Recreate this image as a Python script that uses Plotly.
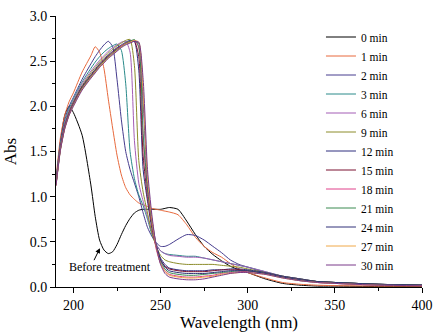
import plotly.graph_objects as go

wavelength = [190, 192.5, 195, 197.5, 200, 205, 210, 212.5, 215, 217.5, 220, 222.5, 225, 227.5,
              230, 232.5, 235, 237.5, 240, 242.5, 245, 247.5, 250, 252.5, 255, 260, 265, 270,
              275, 280, 285, 290, 295, 300, 310, 320, 330, 340, 350, 375, 400]

labels = ["0 min", "1 min", "2 min", "3 min", "6 min", "9 min", "12 min", "15 min",
          "18 min", "21 min", "24 min", "27 min", "30 min"]

colors = ["#000000", "#E8693C", "#463C8E", "#2A8A8A", "#A35DB5", "#8C8C2A", "#2E2E7E",
          "#7A1030", "#E0408A", "#3A8A50", "#303078", "#F0A848", "#7A3A8A"]

abs_0 = [1.15, 1.6, 1.9, 2.0, 1.93, 1.68, 1.13, 0.78, 0.52, 0.41, 0.37, 0.39, 0.47, 0.58, 0.68, 0.76,
         0.82, 0.85, 0.86, 0.86, 0.86, 0.86, 0.86, 0.87, 0.88, 0.86, 0.73, 0.58, 0.45, 0.36, 0.29, 0.23,
         0.19, 0.16, 0.09, 0.04, 0.02, 0.01, 0.01, 0.005, 0.005]
abs_1 = [1.2, 1.65, 1.9, 2.05, 2.15, 2.38, 2.56, 2.66, 2.6, 2.42, 2.08, 1.76, 1.46, 1.24, 1.1, 1.02,
         0.97, 0.93, 0.91, 0.89, 0.87, 0.86, 0.85, 0.84, 0.83, 0.8, 0.69, 0.55, 0.45, 0.38, 0.33, 0.26,
         0.2, 0.16, 0.1, 0.05, 0.03, 0.02, 0.015, 0.01, 0.01]
abs_2 = [1.17, 1.6, 1.85, 2.0, 2.1, 2.3, 2.47, 2.55, 2.62, 2.68, 2.72, 2.66, 2.3, 1.85, 1.5, 1.3,
         1.15, 1.0, 0.82, 0.66, 0.56, 0.49, 0.45, 0.45, 0.47, 0.53, 0.58, 0.57, 0.52, 0.45, 0.38, 0.3,
         0.25, 0.22, 0.16, 0.11, 0.07, 0.05, 0.04, 0.02, 0.015]
abs_3 = [1.16, 1.58, 1.82, 1.97, 2.08, 2.27, 2.42, 2.49, 2.55, 2.6, 2.64, 2.67, 2.69, 2.62, 2.25, 1.5,
         1.2, 1.02, 0.9, 0.75, 0.58, 0.47, 0.4, 0.37, 0.36, 0.35, 0.34, 0.34, 0.32, 0.3, 0.28, 0.26,
         0.24, 0.22, 0.17, 0.12, 0.09, 0.06, 0.05, 0.03, 0.02]
abs_6 = [1.15, 1.56, 1.8, 1.95, 2.06, 2.25, 2.39, 2.45, 2.51, 2.56, 2.61, 2.65, 2.68, 2.71, 2.72, 2.6,
         1.62, 1.15, 0.95, 0.78, 0.6, 0.47, 0.4, 0.37, 0.35, 0.34, 0.33, 0.33, 0.32, 0.3, 0.28, 0.26,
         0.24, 0.22, 0.17, 0.12, 0.09, 0.06, 0.05, 0.03, 0.02]
abs_9 = [1.15, 1.55, 1.79, 1.94, 2.05, 2.23, 2.37, 2.43, 2.49, 2.54, 2.59, 2.63, 2.67, 2.7, 2.73, 2.74,
         2.45, 1.4, 1.05, 0.82, 0.6, 0.45, 0.35, 0.3, 0.28, 0.26, 0.25, 0.25, 0.25, 0.25, 0.24, 0.23,
         0.22, 0.2, 0.16, 0.12, 0.09, 0.06, 0.05, 0.03, 0.02]
abs_12 = [1.14, 1.54, 1.78, 1.93, 2.04, 2.22, 2.35, 2.41, 2.47, 2.52, 2.57, 2.61, 2.65, 2.68, 2.71, 2.73,
          2.72, 2.4, 1.3, 0.95, 0.65, 0.45, 0.32, 0.25, 0.21, 0.19, 0.18, 0.18, 0.18, 0.19, 0.19, 0.2,
          0.2, 0.19, 0.16, 0.12, 0.09, 0.06, 0.05, 0.03, 0.02]
abs_15 = [1.14, 1.53, 1.77, 1.92, 2.03, 2.21, 2.34, 2.4, 2.46, 2.51, 2.56, 2.6, 2.64, 2.67, 2.7, 2.72,
          2.72, 2.55, 1.45, 1.0, 0.68, 0.45, 0.3, 0.23, 0.2, 0.18, 0.17, 0.17, 0.17, 0.18, 0.19, 0.19,
          0.19, 0.18, 0.15, 0.11, 0.08, 0.06, 0.05, 0.03, 0.02]
abs_18 = [1.13, 1.53, 1.77, 1.92, 2.03, 2.2, 2.33, 2.39, 2.45, 2.5, 2.55, 2.59, 2.63, 2.67, 2.7, 2.72,
          2.73, 2.65, 1.65, 1.05, 0.7, 0.42, 0.26, 0.18, 0.14, 0.12, 0.11, 0.11, 0.12, 0.13, 0.15, 0.16,
          0.17, 0.17, 0.15, 0.11, 0.08, 0.05, 0.04, 0.02, 0.015]
abs_21 = [1.13, 1.52, 1.76, 1.91, 2.02, 2.2, 2.33, 2.39, 2.45, 2.5, 2.55, 2.59, 2.63, 2.66, 2.7, 2.72,
          2.74, 2.66, 1.7, 1.08, 0.72, 0.45, 0.28, 0.2, 0.16, 0.14, 0.13, 0.13, 0.14, 0.15, 0.16, 0.17,
          0.18, 0.18, 0.15, 0.11, 0.08, 0.06, 0.05, 0.03, 0.02]
abs_24 = [1.13, 1.52, 1.76, 1.91, 2.02, 2.19, 2.32, 2.38, 2.44, 2.49, 2.54, 2.58, 2.62, 2.66, 2.69, 2.71,
          2.72, 2.7, 2.05, 1.15, 0.75, 0.47, 0.3, 0.22, 0.18, 0.16, 0.15, 0.15, 0.15, 0.16, 0.17, 0.18,
          0.18, 0.18, 0.15, 0.11, 0.08, 0.06, 0.05, 0.03, 0.02]
abs_27 = [1.12, 1.51, 1.75, 1.9, 2.01, 2.19, 2.32, 2.38, 2.44, 2.49, 2.54, 2.58, 2.62, 2.66, 2.69, 2.71,
          2.73, 2.71, 2.15, 1.2, 0.75, 0.44, 0.26, 0.17, 0.13, 0.11, 0.1, 0.1, 0.11, 0.12, 0.14, 0.15,
          0.16, 0.16, 0.14, 0.1, 0.07, 0.05, 0.04, 0.02, 0.015]
abs_30 = [1.12, 1.51, 1.75, 1.9, 2.0, 2.18, 2.31, 2.37, 2.43, 2.48, 2.53, 2.57, 2.61, 2.65, 2.68, 2.7,
          2.72, 2.71, 2.3, 1.3, 0.8, 0.45, 0.25, 0.15, 0.11, 0.09, 0.08, 0.08, 0.09, 0.11, 0.13, 0.15,
          0.16, 0.16, 0.14, 0.1, 0.07, 0.05, 0.04, 0.02, 0.015]

series = [abs_0, abs_1, abs_2, abs_3, abs_6, abs_9, abs_12, abs_15, abs_18, abs_21, abs_24, abs_27, abs_30]

FONT = "Liberation Serif"

fig = go.Figure()
for name, col, ys in zip(labels, colors, series):
    fig.add_trace(go.Scatter(x=wavelength, y=ys, mode="lines", name=name,
                             line=dict(color=col, width=1, shape="spline", smoothing=0.6)))

fig.add_annotation(x=215.2, y=0.43, ax=211.4, ay=0.28, xref="x", yref="y", axref="x", ayref="y",
                   text="", showarrow=True, arrowhead=2, arrowsize=1, arrowwidth=1, arrowcolor="#000")
fig.add_annotation(x=221, y=0.225, xref="x", yref="y", text="Before treatment", showarrow=False,
                   font=dict(family=FONT, size=12, color="#000"))

axis_common = dict(showline=True, linecolor="#000", linewidth=1, ticks="outside", ticklen=5,
                   tickwidth=1, tickcolor="#000", showgrid=False, zeroline=False, automargin=False,
                   tickfont=dict(family=FONT, size=14, color="#000"),
                   minor=dict(ticks="outside", ticklen=3, tickcolor="#000", tickwidth=1, showgrid=False))

fig.update_xaxes(range=[190, 400], tickvals=[200, 250, 300, 350, 400],
                 minor_tickvals=[225, 275, 325, 375],
                 title=dict(text="Wavelength (nm)", font=dict(family=FONT, size=17, color="#000"), standoff=2),
                 **axis_common)
fig.update_yaxes(range=[0, 3.0], tickvals=[0, 0.5, 1.0, 1.5, 2.0, 2.5, 3.0],
                 ticktext=["0.0", "0.5", "1.0", "1.5", "2.0", "2.5", "3.0"],
                 minor_tickvals=[0.25, 0.75, 1.25, 1.75, 2.25, 2.75],
                 title=dict(text="Abs", font=dict(family=FONT, size=17, color="#000"), standoff=8),
                 **axis_common)

fig.update_layout(width=437, height=336, margin=dict(l=56, r=15, t=16, b=49),
                  paper_bgcolor="white", plot_bgcolor="white",
                  font=dict(family=FONT),
                  legend=dict(x=0.724, y=0.976, xanchor="left", yanchor="top",
                              font=dict(family=FONT, size=11.5, color="#000"),
                              bgcolor="rgba(0,0,0,0)", itemwidth=30, tracegroupgap=0),
                  showlegend=True)

fig.write_html("out.html", config={"displayModeBar": False},
               post_script="document.body.style.margin='0';")
